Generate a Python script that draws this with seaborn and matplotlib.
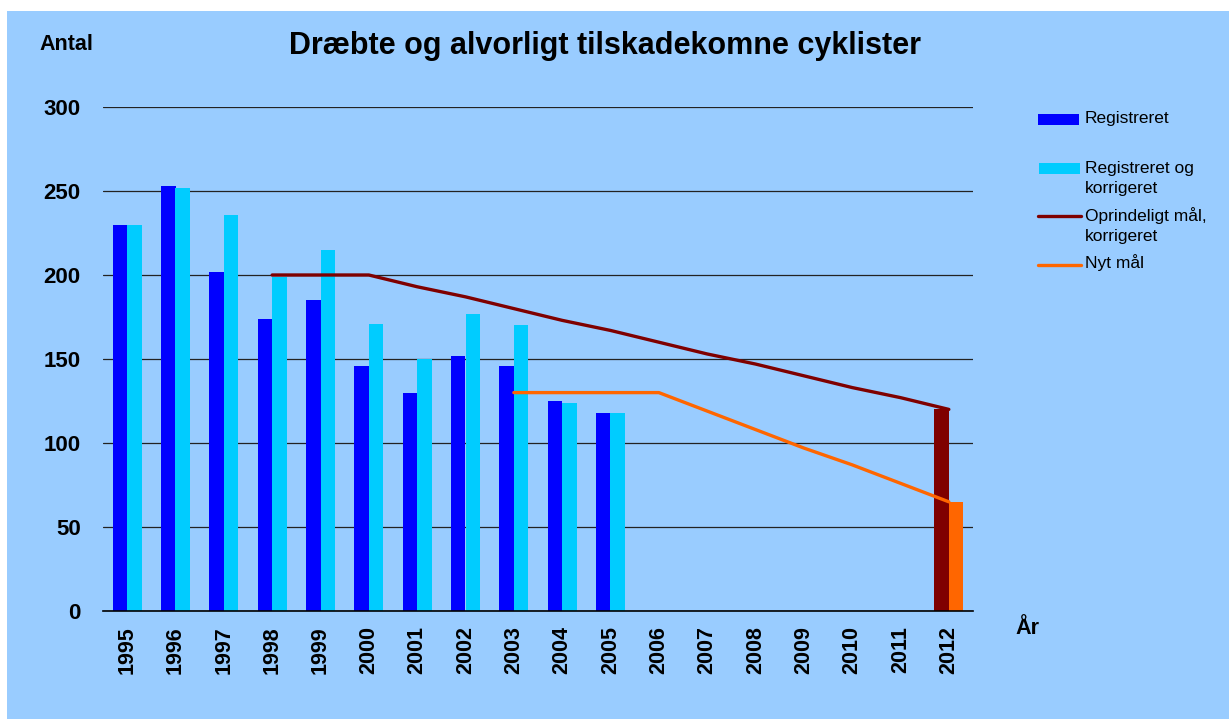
import matplotlib
matplotlib.use("Agg")
import matplotlib.pyplot as plt
import seaborn as sns
import pandas as pd
import numpy as np
from matplotlib.patches import Rectangle
from matplotlib.lines import Line2D

years = [str(y) for y in range(1995, 2013)]

reg_years = ["1995", "1996", "1997", "1998", "1999", "2000", "2001", "2002", "2003", "2004", "2005"]
registreret = [230, 253, 202, 174, 185, 146, 130, 152, 146, 125, 118]
korrigeret = [230, 252, 236, 199, 215, 171, 150, 177, 170, 124, 118]

goal_bar_labels = ["Oprindeligt mål, korrigeret", "Nyt mål"]
goal_bar_values = [120, 65]

orig_years = ["1998", "1999", "2000", "2001", "2002", "2003", "2004", "2005",
              "2006", "2007", "2008", "2009", "2010", "2011", "2012"]
orig_goal = [200, 200, 200, 193, 187, 180, 173, 167, 160, 153, 147, 140, 133, 127, 120]

new_years = ["2003", "2004", "2005", "2006", "2007", "2008", "2009", "2010", "2011", "2012"]
new_goal = [130, 130, 130, 130, 119, 108, 97, 87, 76, 65]

series_names = ["Registreret", "Registreret og korrigeret"]
colors = {"Registreret": "#0000FF", "Registreret og korrigeret": "#00CCFF",
          "Oprindeligt mål, korrigeret": "#7F0000", "Nyt mål": "#FF6600"}

W, H = 1229, 719
sns.set_style("white")
plt.rcParams["font.family"] = ["Liberation Sans", "DejaVu Sans"]
plt.rcParams["text.color"] = "black"
plt.rcParams["xtick.color"] = "black"
plt.rcParams["ytick.color"] = "black"
plt.rcParams["xtick.labelcolor"] = "black"
plt.rcParams["ytick.labelcolor"] = "black"

fig = plt.figure(figsize=(W / 100, H / 100), dpi=100, facecolor="white")
fig.add_artist(Rectangle((7 / W, 0), 1 - 7 / W, 1 - 11 / H, transform=fig.transFigure,
                         facecolor="#99CCFF", edgecolor="none", zorder=-10))

ax = fig.add_axes([103 / W, 1 - 611 / H, (973 - 103) / W, (611 - 107) / H])
ax.set_facecolor("#99CCFF")

df_bars = pd.DataFrame({
    "year": reg_years * 2,
    "series": [series_names[0]] * len(reg_years) + [series_names[1]] * len(reg_years),
    "value": registreret + korrigeret,
})
sns.barplot(data=df_bars, x="year", y="value", hue="series", order=years,
            hue_order=series_names, palette=colors, width=0.6, errorbar=None,
            saturation=1, linewidth=0, legend=False, ax=ax, zorder=3)

df_goal = pd.DataFrame({"year": ["2012", "2012"], "series": goal_bar_labels,
                        "value": goal_bar_values})
sns.barplot(data=df_goal, x="year", y="value", hue="series", order=years,
            hue_order=goal_bar_labels, palette=colors, width=0.6, errorbar=None,
            saturation=1, linewidth=0, legend=False, ax=ax, zorder=3)

pos = {y: i for i, y in enumerate(years)}
df_orig = pd.DataFrame({"x": [pos[y] for y in orig_years], "value": orig_goal})
df_new = pd.DataFrame({"x": [pos[y] for y in new_years], "value": new_goal})
sns.lineplot(data=df_orig, x="x", y="value", color=colors["Oprindeligt mål, korrigeret"],
             linewidth=2.4, ax=ax, zorder=4)
sns.lineplot(data=df_new, x="x", y="value", color=colors["Nyt mål"],
             linewidth=2.4, ax=ax, zorder=4)

ax.set_xlim(-0.5, len(years) - 0.5)
ax.set_ylim(0, 300)
ax.set_yticks([0, 50, 100, 150, 200, 250, 300])
ax.grid(axis="y", color="#222222", linewidth=0.9, zorder=0)
ax.set_axisbelow(True)
for s in ["left", "right", "top"]:
    ax.spines[s].set_visible(False)
ax.spines["bottom"].set_color("black")
ax.spines["bottom"].set_linewidth(1.2)
ax.spines["bottom"].set_zorder(5)

ax.set_xticks(range(len(years)))
ax.set_xticklabels(years, rotation=90, fontsize=15.5, fontweight="bold", color="black")
ax.set_xticks(np.arange(-0.5, len(years)), minor=True)
ax.tick_params(axis="x", which="major", length=0, pad=11)
ax.tick_params(axis="x", which="minor", length=7, width=1.1, color="black", direction="out")
ax.tick_params(axis="y", length=0, pad=16, labelsize=16, labelcolor="black")
for lab in ax.get_yticklabels():
    lab.set_fontweight("bold")
ax.set_xlabel("")
ax.set_ylabel("")

fig.text(605 / W, 1 - 46 / H, "Dræbte og alvorligt tilskadekomne cyklister",
         ha="center", va="center", fontsize=22, fontweight="bold", color="black")
fig.text(66 / W, 1 - 45 / H, "Antal", ha="center", va="center", fontsize=15.5,
         fontweight="bold", color="black")
fig.text(1027 / W, 1 - 628 / H, "År", ha="center", va="center", fontsize=15.5,
         fontweight="bold", color="black")

# legend
def fx(x):
    return x / W

def fy(y):
    return 1 - y / H

leg_font = 12.5
fig.add_artist(Rectangle((fx(1038), fy(125)), 41 / W, 11 / H, transform=fig.transFigure,
                         facecolor=colors["Registreret"], edgecolor="none"))
fig.text(fx(1085), fy(119), "Registreret", ha="left", va="center", fontsize=leg_font)
fig.add_artist(Rectangle((fx(1039), fy(174)), 41 / W, 11 / H, transform=fig.transFigure,
                         facecolor=colors["Registreret og korrigeret"], edgecolor="none"))
fig.text(fx(1085), fy(168), "Registreret og", ha="left", va="center", fontsize=leg_font)
fig.text(fx(1085), fy(189), "korrigeret", ha="left", va="center", fontsize=leg_font)
fig.add_artist(Line2D([fx(1038), fx(1081)], [fy(216.5), fy(216.5)], transform=fig.transFigure,
                      color=colors["Oprindeligt mål, korrigeret"], linewidth=2.4))
fig.text(fx(1085), fy(216), "Oprindeligt mål,", ha="left", va="center", fontsize=leg_font)
fig.text(fx(1085), fy(237), "korrigeret", ha="left", va="center", fontsize=leg_font)
fig.add_artist(Line2D([fx(1038), fx(1081)], [fy(265), fy(265)], transform=fig.transFigure,
                      color=colors["Nyt mål"], linewidth=2.4))
fig.text(fx(1085), fy(263), "Nyt mål", ha="left", va="center", fontsize=leg_font)

fig.savefig("out.png", dpi=100, facecolor="white")
